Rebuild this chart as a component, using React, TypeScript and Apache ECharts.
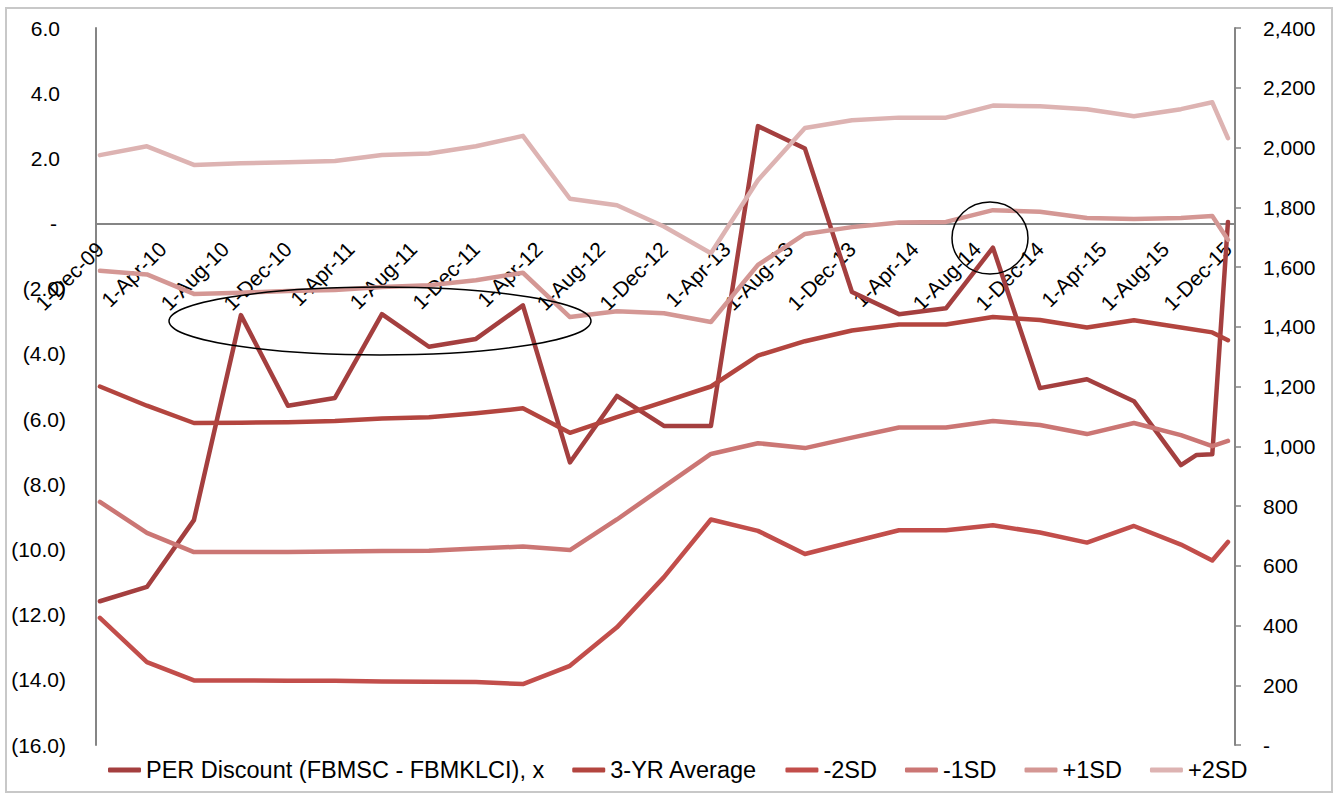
import React, { useEffect, useRef } from "react";
import * as echarts from "echarts";

// month offsets from 1-Dec-09
const months = [0, 3, 6, 9, 12, 15, 18, 21, 24, 27, 30, 33, 36, 39, 42, 45, 48, 51, 54, 57, 60, 63, 66, 69, 70, 71, 72];

const tickMonths = [0, 4, 8, 12, 16, 20, 24, 28, 32, 36, 40, 44, 48, 52, 56, 60, 64, 68, 72];
const tickLabels = [
  "1-Dec-09", "1-Apr-10", "1-Aug-10", "1-Dec-10", "1-Apr-11", "1-Aug-11", "1-Dec-11",
  "1-Apr-12", "1-Aug-12", "1-Dec-12", "1-Apr-13", "1-Aug-13", "1-Dec-13", "1-Apr-14",
  "1-Aug-14", "1-Dec-14", "1-Apr-15", "1-Aug-15", "1-Dec-15",
];

const perDiscount = [-11.59, -11.15, -9.1, -2.81, -5.59, -5.35, -2.78, -3.78, -3.54, -2.51, -7.33, -5.29, -6.21, -6.21, 2.99, 2.3, -2.1, -2.78, -2.6, -0.74, -5.05, -4.78, -5.45, -7.41, -7.1, -7.08, 0.05];
const avg3yr = [-5.0, -5.59, -6.12, -6.11, -6.1, -6.06, -5.98, -5.94, -5.82, -5.67, -6.42, -5.94, -5.47, -5.0, -4.05, -3.61, -3.28, -3.1, -3.1, -2.87, -2.96, -3.19, -2.97, -3.19, null, -3.34, -3.58];
const minus2sd = [-12.1, -13.46, -14.02, -14.02, -14.03, -14.03, -14.05, -14.06, -14.07, -14.13, -13.57, -12.39, -10.85, -9.08, -9.43, -10.14, -9.77, -9.41, -9.41, -9.26, -9.48, -9.79, -9.28, -9.85, null, -10.34, -9.77];
const minus1sd = [-8.54, -9.49, -10.08, -10.08, -10.08, -10.06, -10.05, -10.04, -9.97, -9.91, -10.02, -9.08, -8.07, -7.07, -6.74, -6.89, -6.57, -6.26, -6.26, -6.06, -6.18, -6.46, -6.12, -6.49, null, -6.83, -6.67];
const plus1sd = [-1.45, -1.56, -2.16, -2.12, -2.07, -2.04, -1.95, -1.89, -1.74, -1.51, -2.87, -2.69, -2.75, -3.02, -1.27, -0.32, -0.11, 0.03, 0.05, 0.41, 0.36, 0.17, 0.14, 0.17, null, 0.23, -0.5];
const plus2sd = [2.1, 2.37, 1.8, 1.85, 1.88, 1.92, 2.1, 2.15, 2.37, 2.69, 0.76, 0.56, -0.09, -0.91, 1.33, 2.93, 3.17, 3.25, 3.25, 3.62, 3.6, 3.51, 3.29, 3.51, null, 3.72, 2.62];

const seriesNames = ["PER Discount (FBMSC - FBMKLCI), x", "3-YR Average", "-2SD", "-1SD", "+1SD", "+2SD"];
const seriesValues = [perDiscount, avg3yr, minus2sd, minus1sd, plus1sd, plus2sd];
const seriesColors = ["#A43F3F", "#B3453F", "#C24E4B", "#CB7674", "#D49794", "#DDB3B2"];

const FONT = "'Liberation Sans', Arial, Helvetica, sans-serif";

export default function App() {
  const ref = useRef<HTMLDivElement>(null);

  useEffect(() => {
    if (!ref.current) return;
    const chart = echarts.init(ref.current, undefined, { renderer: "svg" });
    const leftFmt = (v: number) => {
      if (Math.abs(v) < 1e-9) return "{z|-}";
      if (v < 0) return "(" + Math.abs(v).toFixed(1) + ")";
      return "{p|" + v.toFixed(1) + "}";
    };
    const rightFmt = (v: number) => {
      if (v === 0) return "-";
      return v.toLocaleString("en-US");
    };
    const gridTop = 28;
    const gridBottom = 51;
    chart.setOption({
      animation: false,
      grid: { left: 96, right: 100, top: gridTop, bottom: gridBottom, containLabel: false, outerBoundsMode: "none" },
      legend: {
        left: 103,
        top: 753,
        itemWidth: 33,
        itemHeight: 5,
        itemGap: 28,
        icon: "roundRect",
        textStyle: { fontFamily: FONT, fontSize: 23.5, color: "#000" },
        data: seriesNames,
      },
      xAxis: {
        type: "value",
        min: -0.25,
        max: 72.45,
        splitLine: { show: false },
        axisLine: { onZero: false, lineStyle: { color: "#858585", width: 2 } },
        axisTick: { show: false },
        axisLabel: {
          customValues: tickMonths,
          rotate: 45,
          margin: 22,
          align: "right",
          verticalAlign: "middle",
          padding: [12, 0, 0, 0],
          fontFamily: FONT,
          fontSize: 21,
          color: "#000",
          formatter: (v: number) => {
            const i = tickMonths.indexOf(Math.round(v));
            return i >= 0 ? tickLabels[i] : "";
          },
        },
      },
      yAxis: [
        {
          type: "value",
          min: -16,
          max: 6,
          interval: 2,
          splitLine: { show: false },
          axisLine: { show: true, onZero: false, lineStyle: { color: "#858585", width: 2 } },
          axisTick: { show: false },
          axisLabel: {
            margin: 30,
            fontFamily: FONT,
            fontSize: 21,
            color: "#000",
            formatter: leftFmt,
            rich: {
              p: { fontFamily: FONT, fontSize: 21, color: "#000", padding: [0, 6, 0, 0] },
              z: { fontFamily: FONT, fontSize: 21, color: "#000", padding: [0, 9, 0, 0] },
            },
          },
        },
        {
          type: "value",
          min: 0,
          max: 2400,
          interval: 200,
          position: "right",
          splitLine: { show: false },
          axisLine: { show: true, onZero: false, lineStyle: { color: "#858585", width: 2 } },
          axisTick: { show: true, length: 6, lineStyle: { color: "#858585", width: 1.5 } },
          axisLabel: {
            margin: 28,
            fontFamily: FONT,
            fontSize: 21,
            color: "#000",
            formatter: rightFmt,
          },
        },
      ],
      series: seriesNames.map((name, si) => ({
        name,
        type: "line",
        yAxisIndex: 0,
        symbol: "none",
        connectNulls: true,
        color: seriesColors[si],
        lineStyle: { width: 4.5, color: seriesColors[si], cap: "round", join: "round" },
        data: months.map((m, i) => [m, seriesValues[si][i]]),
      })),
      graphic: [
        {
          type: "ellipse",
          shape: { cx: 380, cy: 321, rx: 211, ry: 34 },
          style: { fill: "none", stroke: "#000", lineWidth: 1.5 },
          z: 100,
        },
        {
          type: "ellipse",
          shape: { cx: 990, cy: 238, rx: 38, ry: 36 },
          style: { fill: "none", stroke: "#000", lineWidth: 1.5 },
          z: 100,
        },
      ],
    });
    // move the date axis (line + labels) to the zero level of the left axis
    const zeroY = chart.convertToPixel({ yAxisIndex: 0 }, 0) as number;
    const bottomY = 796 - gridBottom;
    chart.setOption({ xAxis: { offset: zeroY - bottomY } });
    return () => chart.dispose();
  }, []);

  return (
    <div style={{ position: "absolute", left: 0, top: 0, width: 1335, height: 796 }}>
      <div
        style={{
          position: "absolute",
          left: 5,
          top: 7,
          width: 1328,
          height: 786,
          border: "2px solid #C8C8C8",
          boxSizing: "border-box",
        }}
      />
      <div ref={ref} style={{ position: "absolute", left: 0, top: 0, width: 1335, height: 796 }} />
    </div>
  );
}
